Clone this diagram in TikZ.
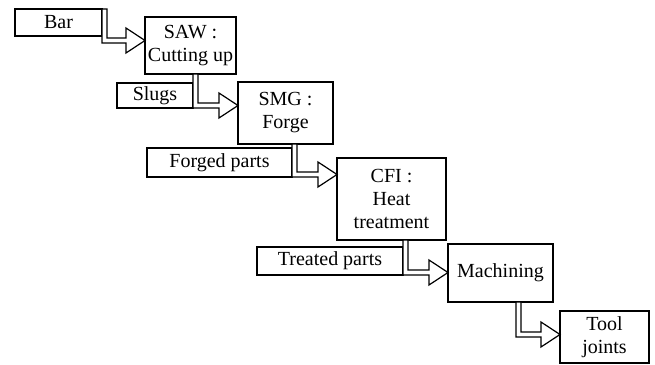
\documentclass[tikz,border=0pt]{standalone}
\usepackage{fontspec}
\setmainfont{Liberation Serif}
\usetikzlibrary{calc}
% hollow elbow arrow: #1 top left of shaft, #2 bottom left of shaft, #3 target anchor
\newcommand{\flow}[3]{\draw[flowline] (#1) -- ++(5,0) -- ($(#2)+(5,-5)$)
  -- ($(#3|-#2)+(-19,-5)$) -- ($(#3|-#2)+(-19,-15)$) -- ($(#3|-#2)+(0,-2.5)$)
  -- ($(#3|-#2)+(-19,10)$) -- ($(#3|-#2)+(-19,0)$) -- (#2) -- cycle;}

\begin{document}
\begin{tikzpicture}[x=0.5pt,y=-0.5pt,
  box/.style={draw,line width=0.6pt,inner sep=1pt,outer sep=0pt,align=center,
    font=\fontsize{10}{11.5}\selectfont},
  flowline/.style={draw,fill=white,line width=0.6pt,line join=miter}]
\useasboundingbox (0,0) rectangle (655,365);

% products
\node[box,minimum width=43.5pt,minimum height=13.5pt] (Bar) at (58.5,22.5) {Bar};
\node[box,minimum width=38pt,minimum height=12.5pt] (Slugs) at (155,95.5) {Slugs};
\node[box,minimum width=72.5pt,minimum height=14.5pt] (Forged) at (219.5,162.5) {Forged parts};
\node[box,minimum width=73pt,minimum height=14pt] (Treated) at (330,261) {Treated parts};

% workshops
\node[box,minimum width=45.5pt,minimum height=28.5pt] (SAW) at (190.5,45.5) {SAW :\\Cutting up};
\node[box,minimum width=47.5pt,minimum height=31pt] (SMG) at (285.5,113) {SMG :\\Forge};
\node[box,minimum width=54.5pt,minimum height=41pt] (CFI) at (391.5,199) {CFI :\\Heat\\treatment};
\node[box,minimum width=52.5pt,minimum height=29pt] (Machining) at (500.5,273) {Machining};
\node[box,minimum width=44.5pt,minimum height=26pt] (Tool) at (604.5,337) {Tool\\joints};

\coordinate (barbend) at ($(Bar.south east)+(0,7)$);
\coordinate (machtop) at ($(Machining.south east)+(-37,0)$);
\coordinate (machbend) at ($(Machining.south east)+(-37,35)$);

\flow{Bar.north east}{barbend}{SAW.west}
\flow{Slugs.east |- SAW.south}{Slugs.south east}{SMG.west}
\flow{Forged.east |- SMG.south}{Forged.south east}{CFI.west}
\flow{Treated.east |- CFI.south}{Treated.south east}{Machining.west}
\flow{machtop}{machbend}{Tool.west}

\end{tikzpicture}
\end{document}
